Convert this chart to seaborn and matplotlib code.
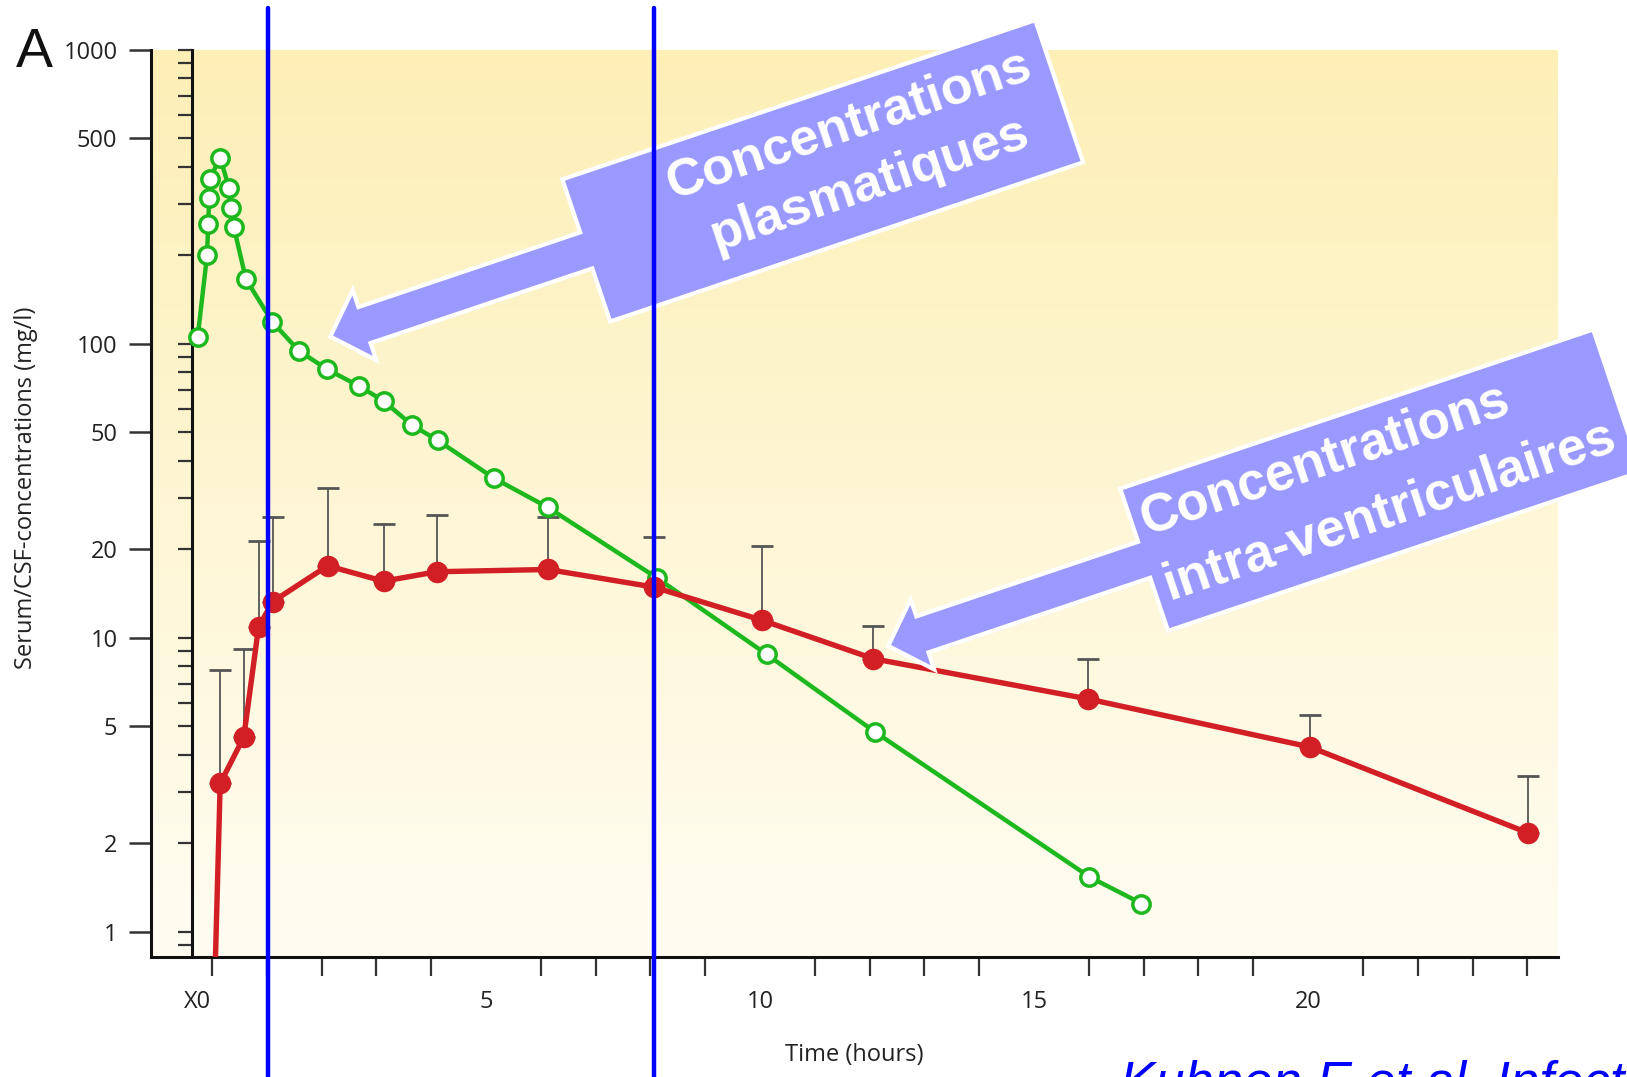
import numpy as np
import matplotlib
matplotlib.use("Agg")
import matplotlib.pyplot as plt
import matplotlib.transforms as mtransforms
from matplotlib.patches import Polygon
from matplotlib.ticker import LogLocator, NullFormatter, NullLocator
import seaborn as sns

# Donnees (temps en heures, concentrations en mg/l)
plasma_time = [-0.26, -0.09, -0.07, -0.05, -0.04, 0.15, 0.31, 0.35, 0.40, 0.62,
               1.10, 1.58, 2.10, 2.68, 3.13, 3.65, 4.12, 5.14, 6.13, 8.12,
               10.12, 12.09, 16.01, 16.96]
plasma_conc = [106, 200, 255, 314, 365, 430, 340, 290, 249, 166,
               119, 95, 82, 72, 64, 53, 47, 35, 27.8, 16.0,
               8.8, 4.8, 1.54, 1.25]

csf_time = [0.0, 0.15, 0.58, 0.85, 1.11, 2.11, 3.13, 4.10, 6.13, 8.06,
            10.03, 12.07, 15.99, 20.03, 24.02]
csf_conc = [0.3, 3.2, 4.6, 10.9, 13.3, 17.6, 15.6, 16.8, 17.1, 14.9,
            11.5, 8.5, 6.2, 4.26, 2.17]
csf_upper = [0.3, 7.8, 9.2, 21.4, 25.8, 32.4, 24.4, 26.2, 25.8, 22.1,
             20.6, 11.0, 8.5, 5.47, 3.38]

y_ticks = [1, 2, 5, 10, 20, 50, 100, 500, 1000]
x_major = [-0.27, 5, 10, 15, 20]
x_major_labels = ["X0", "5", "10", "15", "20"]
marker_times = [1.03, 8.07]

GREEN = "#1DB81D"
RED = "#D21F26"
ARROW_FILL = "#9999FF"

sns.set_style("ticks")
plt.rcParams['font.family'] = ['Open Sans', 'DejaVu Sans']

fig = plt.figure(figsize=(16.27, 10.77), dpi=100)
pos = [0.0931, 0.1114, 0.8645, 0.8422]

# fond degrade jaune -> blanc
bg = fig.add_axes(pos, zorder=-1)
grad = np.linspace(0, 1, 256).reshape(-1, 1)
cmap = matplotlib.colors.LinearSegmentedColormap.from_list("bg", ["#FDEFB6", "#FFFDF2"])
bg.imshow(grad, aspect="auto", cmap=cmap, extent=[0, 1, 0, 1])
bg.axis("off")

ax = fig.add_axes(pos)
ax.set_facecolor("none")
ax.set_yscale("log")
ax.set_xlim(-1.104, 24.56)
ax.set_ylim(0.822, 1000)

lower = np.zeros(len(csf_conc))
upper = np.array(csf_upper) - np.array(csf_conc)
ax.errorbar(csf_time, csf_conc, yerr=[lower, upper], fmt="none", ecolor="#555555",
            elinewidth=1.3, capsize=8, capthick=2, zorder=2)

sns.lineplot(x=plasma_time, y=plasma_conc, ax=ax, color=GREEN, lw=3.2, marker="o",
             markersize=12.5, markerfacecolor="white", markeredgecolor=GREEN,
             markeredgewidth=2.5, estimator=None, sort=False, zorder=3)
sns.lineplot(x=csf_time, y=csf_conc, ax=ax, color=RED, lw=3.9, marker="o",
             markersize=15.5, markeredgewidth=0, estimator=None, sort=False, zorder=3)

# axes
for side in ["top", "right"]:
    ax.spines[side].set_visible(False)
for side in ["left", "bottom"]:
    ax.spines[side].set_linewidth(2.2)
    ax.spines[side].set_color("#111111")

ax.set_yticks(y_ticks, [str(v) for v in y_ticks])
ax.yaxis.set_minor_locator(NullLocator())
ax.tick_params(axis="y", which="major", length=16, width=1.8, color="#333333",
               pad=8.5, labelsize=17, labelcolor="#222222")

ax.set_xticks(np.arange(0, 25), minor=True)
ax.set_xticks(x_major, x_major_labels)
ax.tick_params(axis="x", which="major", length=0, pad=24, labelsize=17, labelcolor="#222222")
ax.tick_params(axis="x", which="minor", length=14, width=1.6, color="#333333")

# axe interieur avec graduations log
sec = ax.secondary_yaxis(0.0288)
sec.yaxis.set_major_locator(LogLocator(base=10, subs=np.arange(1, 10)))
sec.yaxis.set_major_formatter(NullFormatter())
sec.yaxis.set_minor_locator(NullLocator())
sec.tick_params(axis="y", length=10, width=1.6, color="#333333", direction="out")
sec.spines["left"].set_linewidth(2.2)
sec.spines["left"].set_color("#111111")

ax.set_xlabel("Time (hours)", fontsize=17, color="#222222")
ax.xaxis.set_label_coords(0.5, -0.095)
ax.set_ylabel("Serum/CSF-concentrations (mg/l)", fontsize=17, color="#222222")
ax.yaxis.set_label_coords(-0.081, 0.517)


def callout(tip, lines, fontsize, text_s, baselines, ha, angle=18.6,
            shaft_len=234, box_w=499, box_h=150):
    tx, ty = ax.transData.transform(tip)
    a = np.deg2rad(angle)
    u = np.array([np.cos(a), np.sin(a)])
    v = np.array([-np.sin(a), np.cos(a)])
    hl, hw, sw = 36, 37, 19
    s0 = hl + shaft_len
    shape = [(0, 0), (hl, hw), (hl, sw), (s0, sw), (s0, box_h / 2),
             (s0 + box_w, box_h / 2), (s0 + box_w, -box_h / 2), (s0, -box_h / 2),
             (s0, -sw), (hl, -sw), (hl, -hw)]
    pts = [(tx + s * u[0] + t * v[0], ty + s * u[1] + t * v[1]) for s, t in shape]
    ax.add_patch(Polygon(pts, closed=True, facecolor=ARROW_FILL, edgecolor="white",
                         lw=3, joinstyle="miter", transform=mtransforms.IdentityTransform(),
                         clip_on=False, zorder=5))
    cs = s0 + box_w / 2 + text_s
    for line, tb in zip(lines, baselines):
        x = tx + cs * u[0] + tb * v[0]
        y = ty + cs * u[1] + tb * v[1]
        ax.text(x, y, line, transform=mtransforms.IdentityTransform(), rotation=angle,
                rotation_mode="anchor", ha=ha, va="baseline", color="white",
                fontsize=fontsize, fontweight="bold", family=["Liberation Sans", "DejaVu Sans"],
                clip_on=False, zorder=6)


callout((2.16, 106), ["Concentrations", "plasmatiques"], 37.5, 40, [22, -42], "center")
callout((12.34, 9.4), ["Concentrations", "intra-ventriculaires"], 38, -239, [23, -46], "left")

for xt in marker_times:
    ax.axvline(xt, ymin=-0.135, ymax=1.046, color="#0000FF", lw=3.2, clip_on=False, zorder=10)

fig.text(15.6 / 1627, 1 - 67 / 1077, "A", fontsize=40, va="baseline",
         family=["Liberation Sans", "DejaVu Sans"], color="#111111")
fig.text(1120 / 1627, -0.0195, "Kuhnen E et al. Infection 1999", fontsize=38,
         style="italic", color="#0000FF", va="baseline",
         family=["Liberation Sans", "DejaVu Sans"])

fig.savefig("out.png", dpi=100)
